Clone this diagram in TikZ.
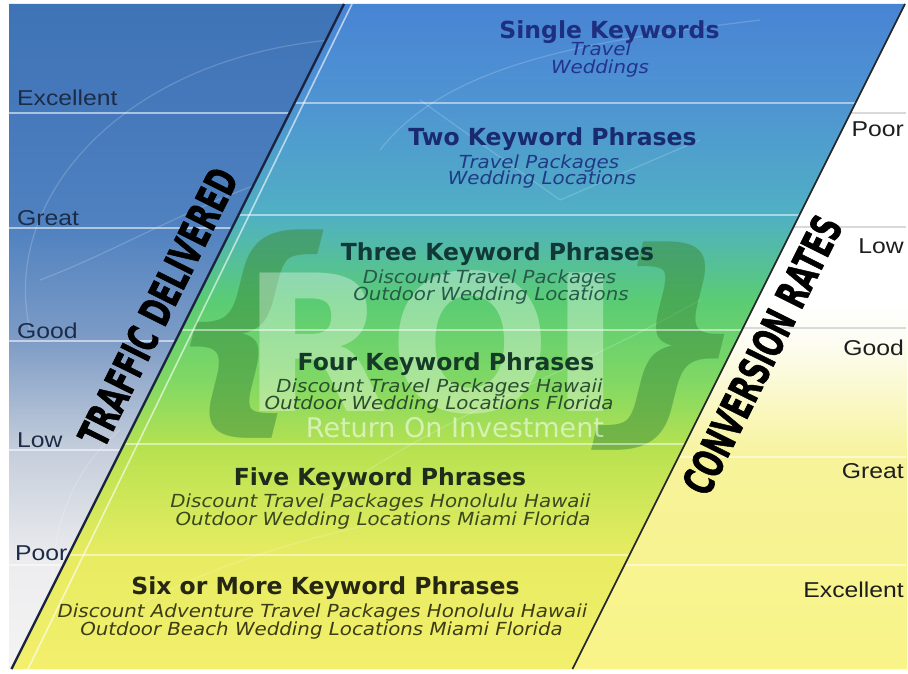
\documentclass[tikz,border=0pt]{standalone}
\usepackage{fontspec}
\setmainfont{DejaVu Sans}
\newfontfamily\titlefont{DejaVu Sans}
\newfontfamily\subfont[FakeStretch=1.1]{DejaVu Sans}
\newfontfamily\labelfont[FakeStretch=1.15]{Liberation Sans}
\newfontfamily\axisfont[FakeBold=1.6]{DejaVu Sans}
\definecolor{cA}{HTML}{4884D4}
\definecolor{cB}{HTML}{4F94D2}
\definecolor{cC}{HTML}{50B0C4}
\definecolor{cD}{HTML}{5ACC74}
\definecolor{cE}{HTML}{80D864}
\definecolor{cF}{HTML}{B8E250}
\definecolor{cG}{HTML}{E8EC62}
\definecolor{cH}{HTML}{F2EF6C}
\definecolor{lA}{HTML}{3E74B6}
\definecolor{lB}{HTML}{4679BB}
\definecolor{lC}{HTML}{5082C0}
\definecolor{lD}{HTML}{7E9CC6}
\definecolor{lE}{HTML}{C5CEDB}
\definecolor{lF}{HTML}{EDEDEF}
\definecolor{lG}{HTML}{F4F4F4}
\definecolor{rA}{HTML}{FFFFFF}
\definecolor{rB}{HTML}{FDFDF4}
\definecolor{rC}{HTML}{F7F39A}
\definecolor{rD}{HTML}{F8F488}
\definecolor{tOne}{HTML}{1F2F80}
\definecolor{sOne}{HTML}{24348C}
\definecolor{tTwo}{HTML}{1A2A70}
\definecolor{sTwo}{HTML}{213A86}
\definecolor{tThree}{HTML}{103838}
\definecolor{sThree}{HTML}{265A4A}
\definecolor{tFour}{HTML}{163A28}
\definecolor{sFour}{HTML}{2A4E2E}
\definecolor{tFive}{HTML}{1E2C1C}
\definecolor{sFive}{HTML}{3A4820}
\definecolor{tSix}{HTML}{262614}
\definecolor{sSix}{HTML}{3C3C16}
\definecolor{lblL}{HTML}{1C2C48}
\definecolor{lblR}{HTML}{1E1E1E}
\definecolor{edgedark}{HTML}{1A2440}
\definecolor{bracegreen}{HTML}{3A8A3A}
\tikzset{
  kwtitle/.style={font=\titlefont\bfseries\fontsize{23.5}{28}\selectfont, anchor=base, inner sep=0pt},
  kwsub/.style={font=\subfont\itshape\fontsize{18}{20}\selectfont, anchor=base, inner sep=0pt},
  lblleft/.style={font=\labelfont\fontsize{21.5}{24}\selectfont, anchor=base west, inner sep=0pt, text=lblL},
  lblright/.style={font=\labelfont\fontsize{21.5}{24}\selectfont, anchor=base east, inner sep=0pt, text=lblR},
  axistxt/.style={font=\axisfont\bfseries\fontsize{42}{44}\selectfont, rotate=63.5, inner sep=0pt, text=black},
  leftline/.style={draw=white, opacity=0.55, line width=2pt},
  midline/.style={draw=white, opacity=0.5, line width=1.8pt},
  rightline/.style={draw=black!15, line width=1.4pt},
  swirl/.style={draw=white, opacity=0.18, line width=1.2pt}
}
\begin{document}
\begin{tikzpicture}[x=1pt,y=-1pt]
\useasboundingbox (0,0) rectangle (908,674);
\fill[white] (0,0) rectangle (908,674);
% ---------- left region ----------
\begin{scope}
\clip (9,4) -- (344,4) -- (11.5,669) -- (9,669) -- cycle;
\shade[top color=lA, bottom color=lB] (0,4) rectangle (908,113.5);
\shade[top color=lB, bottom color=lC] (0,113) rectangle (908,228.5);
\shade[top color=lC, bottom color=lD] (0,228) rectangle (908,341.5);
\shade[top color=lD, bottom color=lE] (0,341) rectangle (908,450.5);
\shade[top color=lE, bottom color=lF] (0,450) rectangle (908,565.5);
\shade[top color=lF, bottom color=lG] (0,565) rectangle (908,669);
\draw[swirl] (30,330) .. controls (0,200) and (120,60) .. (330,40);
\draw[swirl] (40,280) .. controls (120,250) and (200,200) .. (300,170);
\draw[swirl] (60,650) .. controls (40,560) and (60,480) .. (120,430);
\end{scope}
% ---------- right region ----------
\begin{scope}
\clip (905,4) -- (907,4) -- (907,669) -- (572.5,669) -- cycle;
\fill[rA] (500,4) rectangle (908,300);
\shade[top color=rA, bottom color=rB] (500,299) rectangle (908,340);
\shade[top color=rB, bottom color=rC] (500,339) rectangle (908,460);
\shade[top color=rC, bottom color=rD] (500,459) rectangle (908,669);
\end{scope}
% ---------- centre parallelogram ----------
\begin{scope}
\clip (344,4) -- (905,4) -- (572.5,669) -- (11.5,669) -- cycle;
\shade[top color=cA, bottom color=cB] (0,4) rectangle (908,103.5);
\shade[top color=cB, bottom color=cC] (0,103) rectangle (908,215.5);
\shade[top color=cC, bottom color=cD] (0,215) rectangle (908,300.5);
\shade[top color=cD, bottom color=cE] (0,300) rectangle (908,380.5);
\shade[top color=cE, bottom color=cF] (0,380) rectangle (908,450.5);
\shade[top color=cF, bottom color=cG] (0,450) rectangle (908,555.5);
\shade[top color=cG, bottom color=cH] (0,555) rectangle (908,669);
\draw[swirl] (380,150) .. controls (450,60) and (600,40) .. (760,20);
\draw[swirl] (420,100) -- (560,200) -- (700,140);
\draw[swirl] (300,520) .. controls (420,420) and (560,380) .. (700,300);
\draw[swirl] (80,640) .. controls (200,560) and (350,520) .. (520,500);
% ROI watermark
\node[font=\titlefont\bfseries\fontsize{226}{226}\selectfont, text=bracegreen, opacity=0.5, xslant=0.25] (lbrace) at (246,334) {\{};
\node[font=\titlefont\bfseries\fontsize{226}{226}\selectfont, text=bracegreen, opacity=0.5, xslant=0.25] (rbrace) at (670,346) {\}};
\node[font=\titlefont\bfseries\fontsize{190}{190}\selectfont, text=white, opacity=0.34, inner sep=0pt] (roi) at (432,342) {ROI};
\end{scope}
% ---------- band lines ----------
\draw[leftline] (9,113) -- (289.5,113);
\draw[leftline] (9,228) -- (232,228);
\draw[leftline] (9,341) -- (175.5,341);
\draw[leftline] (9,450) -- (121,450);
\draw[leftline] (9,565) -- (63.5,565);
\draw[midline] (294.5,103) -- (855.5,103);
\draw[midline] (238.5,215) -- (799.5,215);
\draw[midline] (181,330) -- (742,330);
\draw[midline] (124,444) -- (685,444);
\draw[midline] (68.5,555) -- (629.5,555);
\draw[rightline] (850.5,113) -- (906,113);
\draw[rightline] (793.5,227) -- (906,227);
\draw[rightline] (743,328) -- (906,328);
\draw[draw=white, opacity=0.5, line width=1.4pt] (678.5,457) -- (906,457);
\draw[draw=white, opacity=0.5, line width=1.4pt] (624.5,565) -- (906,565);
% ---------- diagonal edges ----------
\draw[white, opacity=0.6, line width=1.6pt] (352,4) -- (28,669);
\draw[edgedark, line width=2.4pt] (344,4) -- (11.5,669);
\draw[black!85, line width=1.6pt] (905,4) -- (572.5,669);
% ---------- keyword blocks ----------
\node[kwtitle, text=tOne] (t1) at (609.5,39) {Single Keywords};
\node[kwsub, text=sOne] (s1a) at (601,56) {Travel};
\node[kwsub, text=sOne] (s1b) at (600,74) {Weddings};
\node[kwtitle, text=tTwo] (t2) at (552.5,146) {Two Keyword Phrases};
\node[kwsub, text=sTwo] (s2a) at (539,168) {Travel Packages};
\node[kwsub, text=sTwo] (s2b) at (542,185) {Wedding Locations};
\node[kwtitle, text=tThree] (t3) at (497.5,260) {Three Keyword Phrases};
\node[kwsub, text=sThree] (s3a) at (489.5,283) {Discount Travel Packages};
\node[kwsub, text=sThree] (s3b) at (491,300) {Outdoor Wedding Locations};
\node[kwtitle, text=tFour] (t4) at (446,370) {Four Keyword Phrases};
\node[kwsub, text=sFour] (s4a) at (439.5,392) {Discount Travel Packages Hawaii};
\node[kwsub, text=sFour] (s4b) at (439,409) {Outdoor Wedding Locations Florida};
\node[font=\titlefont\fontsize{27}{30}\selectfont, text=white, opacity=0.55, anchor=base, inner sep=0pt] (roitext) at (455,437) {Return On Investment};
\node[kwtitle, text=tFive] (t5) at (380,485) {Five Keyword Phrases};
\node[kwsub, text=sFive] (s5a) at (380.5,507) {Discount Travel Packages Honolulu Hawaii};
\node[kwsub, text=sFive] (s5b) at (383,525) {Outdoor Wedding Locations Miami Florida};
\node[kwtitle, text=tSix] (t6) at (325.5,594) {Six or More Keyword Phrases};
\node[kwsub, text=sSix] (s6a) at (322.5,617) {Discount Adventure Travel Packages Honolulu Hawaii};
\node[kwsub, text=sSix] (s6b) at (321.5,635) {Outdoor Beach Wedding Locations Miami Florida};
% ---------- side labels ----------
\node[lblleft] (le) at (17,106) {Excellent};
\node[lblleft] (lg) at (17,225) {Great};
\node[lblleft] (lo) at (17,338) {Good};
\node[lblleft] (ll) at (17,447) {Low};
\node[lblleft] (lp) at (15,560) {Poor};
\node[lblright] (rp) at (904,137) {Poor};
\node[lblright] (rl) at (904,253) {Low};
\node[lblright] (ro) at (904,355) {Good};
\node[lblright] (rg) at (904,478) {Great};
\node[lblright] (re) at (904,597) {Excellent};
% ---------- axis titles ----------
\node[axistxt] (traffic) at (158,307) {\scalebox{0.64}[1]{TRAFFIC DELIVERED}};
\node[axistxt] (conv) at (762,355) {\scalebox{0.64}[1]{CONVERSION RATES}};
\end{tikzpicture}
\end{document}
